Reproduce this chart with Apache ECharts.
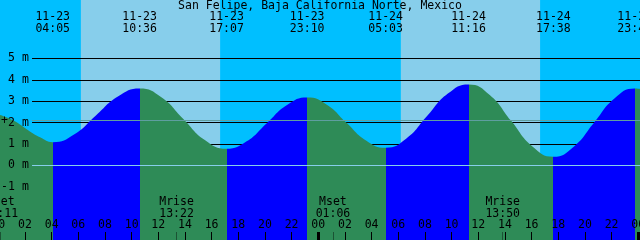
<!DOCTYPE html>
<html><head><meta charset="utf-8">
<script src="https://cdn.jsdelivr.net/npm/echarts@6/dist/echarts.min.js"></script>
<style>html,body{margin:0;padding:0;background:#fff}#c{width:640px;height:240px}</style>
</head><body><div id="c"></div>
<script>
const chartTitle = 'San Felipe, Baja California Norte, Mexico';
// times are hours from 11-23 00:00
const tideTimes = [0, 1.13, 2.4, 3.13, 4.08, 5.71, 7.34, 8.97, 10.6, 12.23, 13.86, 15.49, 17.12, 18.63, 20.14, 21.66, 23.17, 24.64, 26.11, 27.58, 29.05, 30.61, 32.16, 33.72, 35.27, 36.86, 38.45, 40.04, 41.63, 43.16, 44.68, 46.21, 47.73, 48.13];
const tideHeights = [2.38, 2.1, 1.58, 1.32, 1.09, 1.46, 2.35, 3.22, 3.6, 3.19, 2.19, 1.19, 0.78, 1.13, 1.98, 2.83, 3.18, 2.84, 2.0, 1.17, 0.83, 1.26, 2.31, 3.36, 3.79, 3.3, 2.1, 0.9, 0.41, 0.88, 2.0, 3.13, 3.6, 3.58];
const extremaTimes = [4.083, 10.6, 17.117, 23.167, 29.05, 35.267, 41.633, 47.73];
const extremaTypes = ['L', 'H', 'L', 'H', 'L', 'H', 'L', 'H'];
const extremaLabels = ['11-23\n04:05', '11-23\n10:36', '11-23\n17:07', '11-23\n23:10', '11-24\n05:03', '11-24\n11:16', '11-24\n17:38', '11-24\n23:44'];
const moonTimes = [0.183, 13.367, 25.1, 37.833];
const moonLabels = ['Mset\n00:11', 'Mrise\n13:22', 'Mset\n01:06', 'Mrise\n13:50'];
const sunriseTimes = [6.2, 30.2];
const sunsetTimes = [16.633, 40.633];
const heightTicks = [-1, 0, 1, 2, 3, 4, 5];
const gridLevels = [1, 2, 3, 4, 5];
const zeroLevel = 0;
const meanLevel = 2.1;
const hourTicks = [0, 2, 4, 6, 8, 10, 12, 14, 16, 18, 20, 22, 24, 26, 28, 30, 32, 34, 36, 38, 40, 42, 44, 46, 48];
const midnightTicks = [24, 48];

const xMin = 0, xMax = 48.13;
const yMin = -3.4813, yMax = 7.7336;
const FONT = 'DejaVu Sans Mono';
const FS = 11.5;
const NIGHT = '#00bfff', DAY = '#87ceeb', RISE = '#0000ff', FALL = '#2e8b57';

const chart = echarts.init(document.getElementById('c'), null, {renderer: 'canvas'});

const bands = [];
let prev = xMin;
for (let i = 0; i < sunriseTimes.length; i++) {
  bands.push([{xAxis: prev, itemStyle: {color: NIGHT}}, {xAxis: sunriseTimes[i]}]);
  bands.push([{xAxis: sunriseTimes[i], itemStyle: {color: DAY}}, {xAxis: sunsetTimes[i]}]);
  prev = sunsetTimes[i];
}
bands.push([{xAxis: prev, itemStyle: {color: NIGHT}}, {xAxis: xMax}]);

const pieces = [];
pieces.push({gte: xMin - 1, lt: extremaTimes[0], color: extremaTypes[0] === 'L' ? FALL : RISE});
for (let i = 0; i < extremaTimes.length; i++) {
  const end = i + 1 < extremaTimes.length ? extremaTimes[i + 1] : xMax + 1;
  pieces.push({gte: extremaTimes[i], lt: end, color: extremaTypes[i] === 'L' ? RISE : FALL});
}

const tideData = tideTimes.map((t, i) => [t, tideHeights[i]]);
const lineStart = 2.53;
const pad = v => String(Math.round(v) % 24).padStart(2, '0');
const findLabel = (times, labels, v) => { let b = 0; times.forEach((t, i) => { if (Math.abs(t - v) < Math.abs(times[b] - v)) b = i; }); return labels[b]; };

const baseAxis = {
  type: 'value', min: xMin, max: xMax, z: 10,
  axisLine: {show: false, onZero: false}, splitLine: {show: false}
};
const labelStyle = {color: '#000', fontFamily: FONT, fontSize: FS};

chart.setOption({
  animation: false,
  title: {text: chartTitle, left: 'center', top: 0, padding: 0,
    textStyle: {fontFamily: FONT, fontSize: FS, fontWeight: 'normal', color: '#000', lineHeight: 12}},
  grid: {left: -1.7, right: 0, top: 0, bottom: 0, containLabel: false, outerBoundsMode: 'none'},
  xAxis: [
    Object.assign({}, baseAxis, {position: 'bottom',
      axisTick: {show: true, inside: true, length: 8, customValues: hourTicks, lineStyle: {color: '#000', width: 1}},
      axisLabel: Object.assign({show: true, inside: true, margin: 14.5, customValues: hourTicks, verticalAlign: 'middle',
        formatter: v => pad(v)}, labelStyle)}),
    Object.assign({}, baseAxis, {position: 'bottom',
      axisTick: {show: true, inside: true, length: 8, customValues: midnightTicks, lineStyle: {color: '#000', width: 3}},
      axisLabel: {show: false}}),
    Object.assign({}, baseAxis, {position: 'bottom',
      axisTick: {show: true, inside: true, length: 8, customValues: moonTimes, lineStyle: {color: 'rgba(0,0,0,0.4)', width: 1}},
      axisLabel: Object.assign({show: true, inside: true, margin: 32, customValues: moonTimes, verticalAlign: 'middle', lineHeight: 12,
        formatter: v => findLabel(moonTimes, moonLabels, v)}, labelStyle)}),
    Object.assign({}, baseAxis, {position: 'top',
      axisTick: {show: false},
      axisLabel: Object.assign({show: true, inside: true, margin: 23.3, customValues: extremaTimes, verticalAlign: 'middle', lineHeight: 12,
        formatter: v => findLabel(extremaTimes, extremaLabels, v)}, labelStyle)})
  ],
  yAxis: {
    type: 'value', min: yMin, max: yMax, z: 10,
    axisLine: {show: false, onZero: false}, axisTick: {show: false}, splitLine: {show: false},
    axisLabel: Object.assign({show: true, inside: true, margin: 30.5, align: 'right', verticalAlign: 'middle',
      customValues: heightTicks.concat([meanLevel]),
      formatter: v => (Math.abs(v - meanLevel) < 1e-6 ? '+   ' : v + ' m')}, labelStyle)
  },
  visualMap: {type: 'piecewise', show: false, dimension: 0, seriesIndex: 2, pieces: pieces},
  series: [
    {type: 'line', data: [], z: 0, silent: true,
      markArea: {silent: true, z: 0, data: bands}},
    {type: 'line', data: [], z: 1, silent: true,
      markLine: {silent: true, z: 1, symbol: ['none', 'none'], label: {show: false},
        lineStyle: {color: '#000', width: 1, type: 'solid'},
        data: gridLevels.map(v => [{coord: [lineStart, v]}, {coord: [xMax, v]}])}},
    {type: 'line', data: tideData, z: 2, smooth: true, showSymbol: false, silent: true,
      lineStyle: {width: 0}, areaStyle: {opacity: 1, origin: 'start'}},
    {type: 'line', data: [], z: 3, silent: true,
      markLine: {silent: true, z: 3, symbol: ['none', 'none'], label: {show: false},
        data: [
          [{coord: [lineStart, zeroLevel], lineStyle: {color: '#87ceeb', width: 1, type: 'solid'}}, {coord: [xMax, zeroLevel]}],
          [{coord: [lineStart, meanLevel], lineStyle: {color: '#5f9ea0', width: 1, type: 'solid'}}, {coord: [xMax, meanLevel]}]
        ]}}
  ]
});
</script>
</body></html>
